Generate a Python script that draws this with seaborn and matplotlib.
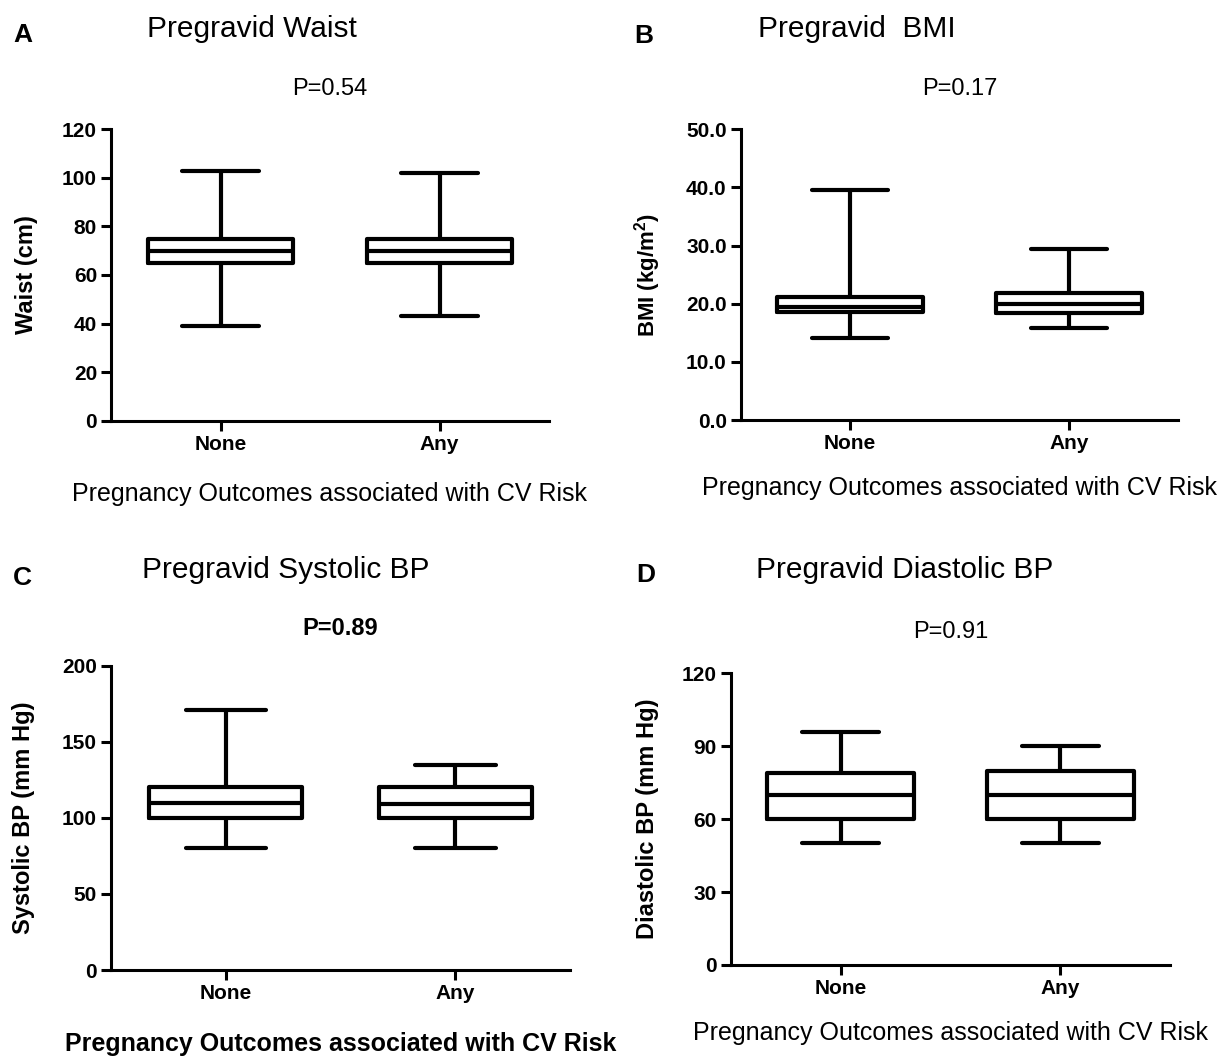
import matplotlib
matplotlib.use("Agg")
import pandas as pd
import matplotlib.pyplot as plt
import seaborn as sns

sns.set_theme(style="white")
plt.rcParams['font.family'] = ['Liberation Sans', 'DejaVu Sans']
plt.rcParams['mathtext.fontset'] = 'custom'
plt.rcParams['mathtext.rm'] = 'Liberation Sans'
plt.rcParams['mathtext.bf'] = 'Liberation Sans:bold'
plt.rcParams['text.color'] = 'black'
plt.rcParams['axes.labelcolor'] = 'black'
plt.rcParams['xtick.color'] = 'black'
plt.rcParams['ytick.color'] = 'black'

groups = ['None', 'Any']

# min, Q1, median, Q3, max
waist_none = [39, 65, 70, 75, 103]
waist_any = [43, 65, 70, 75, 102]
bmi_none = [14.1, 18.5, 19.5, 21.2, 39.6]
bmi_any = [15.8, 18.4, 19.9, 21.9, 29.4]
sbp_none = [80, 100, 110, 120, 171]
sbp_any = [80, 100, 109, 120, 135]
dbp_none = [50, 60, 70, 79, 96]
dbp_any = [50, 60, 70, 80, 90]

waist_ticks = [0, 20, 40, 60, 80, 100, 120]
bmi_ticks = [0, 10, 20, 30, 40, 50]
sbp_ticks = [0, 50, 100, 150, 200]
dbp_ticks = [0, 30, 60, 90, 120]

p_values = ['P=0.54', 'P=0.17', 'P=0.89', 'P=0.91']
titles = ['Pregravid Waist', 'Pregravid  BMI', 'Pregravid Systolic BP', 'Pregravid Diastolic BP']
ylabels = ['Waist (cm)', r'BMI (kg/m$^\mathbf{2}$)', 'Systolic BP (mm Hg)', 'Diastolic BP (mm Hg)']
xlabel = 'Pregnancy Outcomes associated with CV Risk'

W, H = 1221, 1057
fig = plt.figure(figsize=(W / 100, H / 100), dpi=100)


def fx(x):
    return x / W


def fy(y):
    return 1 - y / H


panels = [
    dict(letter='A', none=waist_none, any=waist_any, ticks=waist_ticks, fmt='{:.0f}',
         box=(111, 129.3, 549, 420.7), let=(13, 42), tit=(147, 37), p=95, xl=501, ylx=27, bold=False),
    dict(letter='B', none=bmi_none, any=bmi_any, ticks=bmi_ticks, fmt='{:.1f}',
         box=(740.6, 129.3, 1178.2, 420), let=(634, 43), tit=(758, 37), p=95, xl=495, ylx=648, bold=False),
    dict(letter='C', none=sbp_none, any=sbp_any, ticks=sbp_ticks, fmt='{:.0f}',
         box=(111, 665.7, 570.2, 970), let=(13, 585), tit=(142, 578), p=635, xl=1051, ylx=24, bold=True),
    dict(letter='D', none=dbp_none, any=dbp_any, ticks=dbp_ticks, fmt='{:.0f}',
         box=(730.7, 673.3, 1170.3, 965), let=(636, 582), tit=(756, 578), p=638, xl=1040, ylx=648, bold=False),
]

for i, pn in enumerate(panels):
    x0, y0, x1, y1 = pn['box']
    ax = fig.add_axes([fx(x0), fy(y1), (x1 - x0) / W, (y1 - y0) / H])
    df = pd.DataFrame({'group': ['None'] * 5 + ['Any'] * 5,
                       'value': pn['none'] + pn['any']})
    sns.boxplot(data=df, x='group', y='value', order=groups, ax=ax,
                width=0.666, fill=False, color='black', linecolor='black',
                linewidth=3, whis=(0, 100), showfliers=False, capwidths=0.35,
                medianprops=dict(color='black', linewidth=3))
    ax.set_xlim(-0.5, 1.5)
    ax.set_ylim(pn['ticks'][0], pn['ticks'][-1])
    ax.set_yticks(pn['ticks'])
    ax.set_yticklabels([pn['fmt'].format(t) for t in pn['ticks']])
    ax.set_xlabel('')
    ax.set_ylabel('')
    sns.despine(ax=ax)
    for s in ['left', 'bottom']:
        ax.spines[s].set_linewidth(2.2)
        ax.spines[s].set_color('black')
    ax.tick_params(axis='both', direction='out', length=7, width=2.2,
                   labelsize=15, pad=3, colors='black', left=True, bottom=True)
    for lbl in ax.get_xticklabels() + ax.get_yticklabels():
        lbl.set_fontweight('bold')

    cx = (x0 + x1) / 2
    cy = (y0 + y1) / 2
    fig.text(fx(pn['let'][0]), fy(pn['let'][1]), pn['letter'], fontsize=19,
             fontweight='bold', ha='left', va='baseline')
    fig.text(fx(pn['tit'][0]), fy(pn['tit'][1]), titles[i], fontsize=21.5,
             ha='left', va='baseline')
    fig.text(fx(cx), fy(pn['p']), p_values[i], fontsize=17,
             fontweight='bold' if pn['bold'] else 'normal', ha='center', va='baseline')
    fig.text(fx(cx), fy(pn['xl']), xlabel, fontsize=18,
             fontweight='bold' if pn['bold'] else 'normal', ha='center', va='baseline')
    fig.text(fx(pn['ylx']), fy(cy), ylabels[i], fontsize=16 if i == 1 else 17,
             fontweight='bold', rotation=90, ha='center', va='center')

fig.savefig('out.png', dpi=100)
